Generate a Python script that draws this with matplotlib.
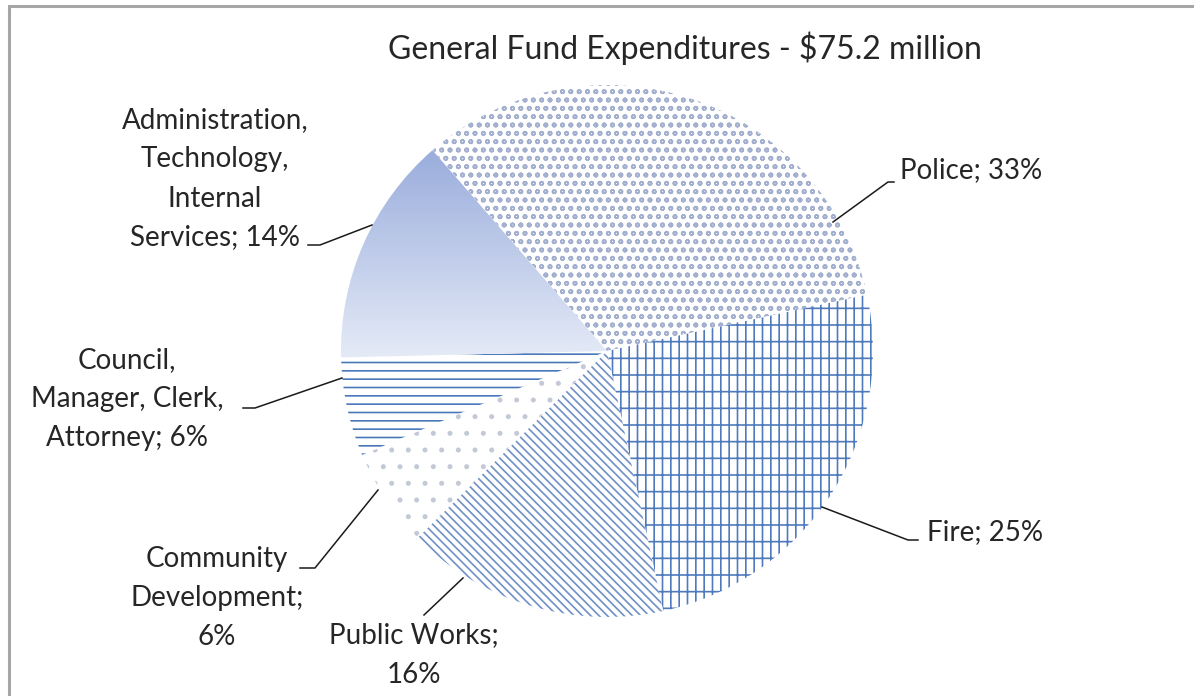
import numpy as np
import matplotlib
matplotlib.use('Agg')
import matplotlib.pyplot as plt
from matplotlib.colors import to_rgb

W, H = 1194, 696

# slices, clockwise from the top-left
categories = ['Police', 'Fire', 'Public Works', 'Community\nDevelopment',
              'Council,\nManager, Clerk,\nAttorney',
              'Administration,\nTechnology,\nInternal\nServices']
shares = [33, 25, 16, 6, 6, 14]
label_sep = ['; ', '; ', ';\n', ';\n', '; ', '; ']

plt.rcParams['font.family'] = ['Lato', 'DejaVu Sans']
plt.rcParams['hatch.linewidth'] = 1.2

fig = plt.figure(figsize=(W / 100, H / 100), dpi=100)
ax = fig.add_axes([0, 0, 1, 1])


def py(y):
    # pixel row (from top) -> data y
    return H - y


cx, cy, r = 607, 351, 266
wedges, _ = ax.pie(shares, startangle=131, counterclock=False,
                   center=(cx, py(cy)), radius=r,
                   colors=['white'] * len(shares),
                   wedgeprops=dict(linewidth=0))

# patterns, one per slice
styles = [
    ('oo', '#a3afcf'),          # police: small marks
    ('||-', '#4f7bbd'),         # fire: grid
    ('\\' * 4, '#6f8fc6'),      # public works: fine diagonals
    ('.', '#c3c9d6'),           # community development: sparse dots
    ('--', '#4a78b8'),          # council: horizontal stripes
    (None, None),               # admin: gradient
]
for w, (hatch, col) in zip(wedges, styles):
    if hatch is None:
        continue
    w.set_edgecolor(col)
    w.set_linewidth(0)
    w.set_hatch(hatch)

# gradient fill for the admin slice
top = np.array(to_rgb('#96aadb'))
bot = np.array(to_rgb('#e9eef8'))
t = np.linspace(0, 1, 256)[:, None]
grad = (top * (1 - t) + bot * t)[:, None, :]
im = ax.imshow(grad, extent=(330, 620, py(370), py(140)), aspect='auto',
               zorder=2, interpolation='bilinear')
im.set_clip_path(wedges[-1])

ax.set_xlim(0, W)
ax.set_ylim(0, H)
ax.set_aspect('auto')
ax.axis('off')

txt_kw = dict(fontsize=20, color='#262626', ha='center', va='center',
              multialignment='center', linespacing=1.62)

labels = [c + s + '%d%%' % v for c, s, v in zip(categories, label_sep, shares)]
label_pos = [(971, 170), (985, 532), (414, 655), (217, 598), (127, 399), (215, 179)]
leaders = [
    [(833, 222), (888, 182), (894, 182)],
    [(822, 507), (908, 540), (918, 540)],
    [(463, 578), (424, 615)],
    [(378, 490), (315, 568), (300, 568)],
    [(243, 408), (255, 408), (342, 378)],
    [(308, 245), (320, 245), (372, 225)],
]
for lab, (lx, ly), pts in zip(labels, label_pos, leaders):
    ax.text(lx, py(ly), lab, **txt_kw)
    xs = [p[0] for p in pts]
    ys = [py(p[1]) for p in pts]
    ax.plot(xs, ys, color='#1a1a1a', lw=1.1, zorder=3)

ax.text(685, py(48), 'General Fund Expenditures - $75.2 million',
        fontsize=23, color='#262626', ha='center', va='center')

# chart frame (only top and left edges visible)
ax.plot([9, 9, W + 5], [-5, py(6), py(6)], color='#a6a6a6', lw=2.2,
        solid_joinstyle='miter', clip_on=False)

fig.savefig('out.png', dpi=100)
